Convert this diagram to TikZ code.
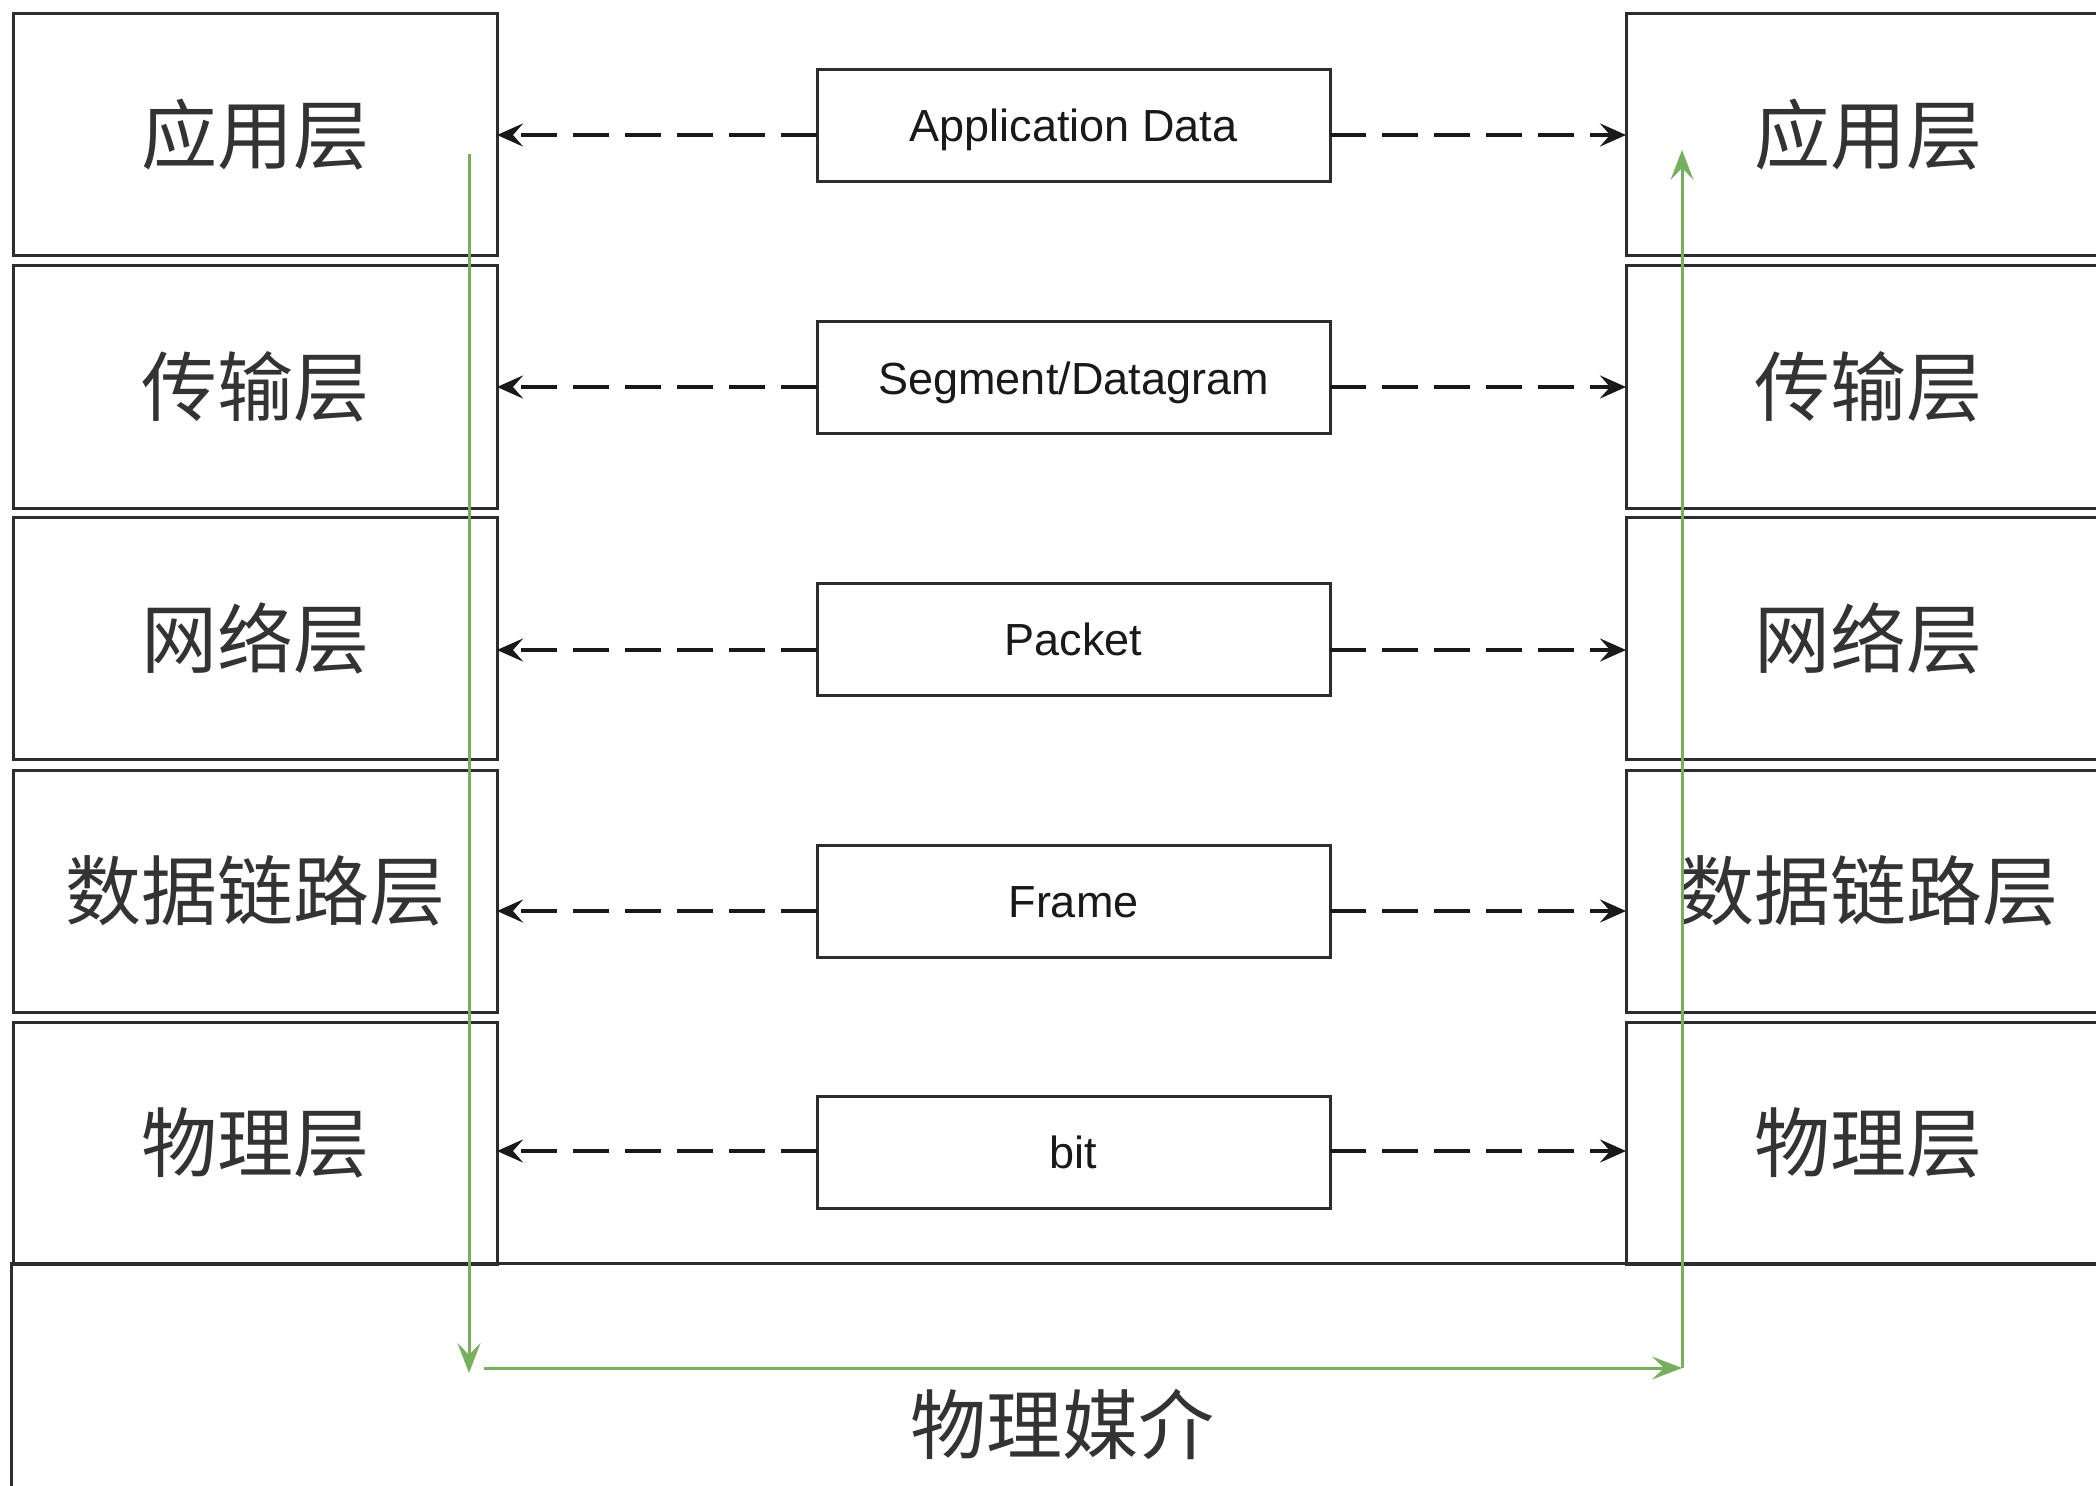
\documentclass[tikz,border=0pt]{standalone}
\usepackage{fontspec}
\setmainfont{Liberation Sans}
\newfontfamily\cjk{Noto Sans CJK SC}
\usetikzlibrary{arrows.meta,calc}
\definecolor{gline}{RGB}{118,176,92}
\definecolor{edge}{RGB}{45,45,45}
\begin{document}
\begin{tikzpicture}[x=0.5pt,y=-0.5pt,
 layer/.style={draw=edge, line width=1.5pt, minimum width=242pt, minimum height=121pt, inner sep=0pt, outer sep=0pt, font=\cjk\fontsize{38}{40}\selectfont, text=black!80},
 pdu/.style={draw=edge, line width=1.5pt, minimum width=256.5pt, minimum height=56pt, inner sep=0pt, outer sep=0pt, text height=16.1pt, text depth=0pt, font=\fontsize{22.5}{24}\selectfont, text=black!90},
 media/.style={draw=edge, line width=1.5pt, minimum width=1050pt, minimum height=120pt, inner sep=0pt, outer sep=0pt},
 mediatext/.style={font=\cjk\fontsize{38}{40}\selectfont, text=black!80},
 darr/.style={draw=black!90, line width=2pt, dash pattern=on 18pt off 8pt, -{Stealth[length=13pt,width=11.5pt,inset=5pt]}},
 garr/.style={draw=gline, line width=1.5pt, -{Stealth[length=15pt,width=11.5pt,inset=6pt]}}
]
\useasboundingbox (0,0) rectangle (2096,1486);
\clip (0,0) rectangle (2096,1486);

% bottom medium
\node[media] (B) at (1061,1383) {};
\node[mediatext] (BT) at (1062,1424) {物理媒介};

% left stack
\node[layer] (L1) at (255,135) {应用层};
\node[layer] (L2) at (255,387) {传输层};
\node[layer] (L3) at (255,638.5) {网络层};
\node[layer] (L4) at (255,891) {数据链路层};
\node[layer] (L5) at (255,1143) {物理层};

% right stack
\node[layer] (R1) at (1868,135) {应用层};
\node[layer] (R2) at (1868,387) {传输层};
\node[layer] (R3) at (1868,638.5) {网络层};
\node[layer] (R4) at (1868,891) {数据链路层};
\node[layer] (R5) at (1868,1143) {物理层};

% PDUs
\node[pdu] (M1) at (1073.5,125.5) {Application Data};
\node[pdu] (M2) at (1073.5,378) {Segment/Datagram};
\node[pdu] (M3) at (1073.5,639) {Packet};
\node[pdu] (M4) at (1073.5,901) {Frame};
\node[pdu] (M5) at (1073.5,1152) {bit};

% dashed peer arrows
\draw[darr] ($(M1.west)+(0,9.5)$) -- ($(M1.west -| L1.east)+(0,9.5)$);
\draw[darr] ($(M1.east)+(0,9.5)$) -- ($(M1.east -| R1.west)+(0,9.5)$);
\draw[darr] ($(M2.west)+(0,9)$) -- ($(M2.west -| L2.east)+(0,9)$);
\draw[darr] ($(M2.east)+(0,9)$) -- ($(M2.east -| R2.west)+(0,9)$);
\draw[darr] ($(M3.west)+(0,11)$) -- ($(M3.west -| L3.east)+(0,11)$);
\draw[darr] ($(M3.east)+(0,11)$) -- ($(M3.east -| R3.west)+(0,11)$);
\draw[darr] ($(M4.west)+(0,10)$) -- ($(M4.west -| L4.east)+(0,10)$);
\draw[darr] ($(M4.east)+(0,10)$) -- ($(M4.east -| R4.west)+(0,10)$);
\draw[darr] ($(M5.west)+(0,-1)$) -- ($(M5.west -| L5.east)+(0,-1)$);
\draw[darr] ($(M5.east)+(0,-1)$) -- ($(M5.east -| R5.west)+(0,-1)$);

% green data path
\coordinate (g1) at (469,154);
\coordinate (g2) at (469,1373);
\coordinate (g3) at (484,1368);
\coordinate (g4) at (1682,1368);
\coordinate (g5) at (1682,150);
\draw[garr] (g1) -- (g2);
\draw[garr] (g3) -- (g4);
\draw[garr] (g4) -- (g5);
\end{tikzpicture}
\end{document}
